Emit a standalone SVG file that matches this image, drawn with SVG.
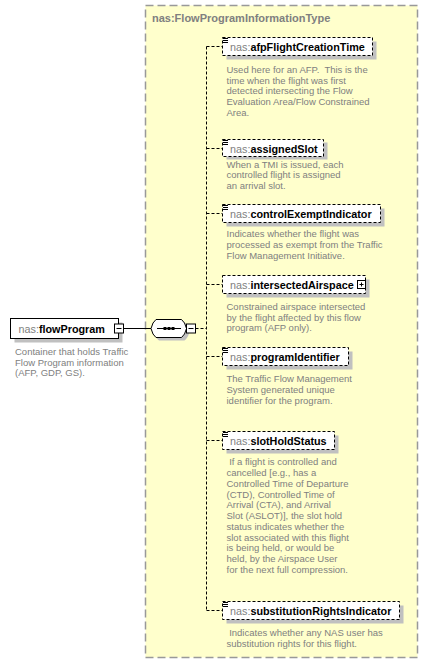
<svg xmlns="http://www.w3.org/2000/svg" width="428" height="666" viewBox="0 0 428 666">
<defs>
<style>
.typebox{fill:#FFFFCC;stroke:#999999;stroke-width:1.5;stroke-dasharray:8,4}
.title{font-family:"Liberation Sans",Arial,sans-serif;font-size:11px;font-weight:bold;fill:#808080}
.shadow{fill:#C0C0C0;stroke:none}
.elem{fill:#FFFFFF;stroke:#000000;stroke-width:1}
.opt{stroke-dasharray:3,2}
.lbl{font-family:"Liberation Sans",Arial,sans-serif;font-size:10.8px}
.ns{fill:#808080}
.nm{font-weight:bold;fill:#000000}
.desc{font-family:"Liberation Sans",Arial,sans-serif;font-size:9.5px;fill:#808080}
.conn{fill:none;stroke:#000000;stroke-width:1}
.dash{stroke-dasharray:3,2}
.btn{fill:#FFFFFF;stroke:#000000;stroke-width:1}
.icon{stroke:#000000;stroke-width:1}
</style>
</defs>

<rect class="typebox" x="145.5" y="5.5" width="272" height="652"/>
<text class="title" x="152" y="22">nas:FlowProgramInformationType</text>

<g id="connectors">
<line class="conn" x1="123.5" y1="328.5" x2="151" y2="328.5"/>
<line class="conn dash" x1="195.5" y1="328.5" x2="206.5" y2="328.5"/>
<line class="conn dash" x1="206.5" y1="46.5" x2="206.5" y2="610.5"/>
<line class="conn dash" x1="206.5" y1="46.5" x2="222.5" y2="46.5"/>
<line class="conn dash" x1="206.5" y1="148.5" x2="222.5" y2="148.5"/>
<line class="conn dash" x1="206.5" y1="213.5" x2="222.5" y2="213.5"/>
<line class="conn dash" x1="206.5" y1="284.5" x2="222.5" y2="284.5"/>
<line class="conn dash" x1="206.5" y1="356.5" x2="222.5" y2="356.5"/>
<line class="conn dash" x1="206.5" y1="440.5" x2="222.5" y2="440.5"/>
<line class="conn dash" x1="206.5" y1="610.5" x2="222.5" y2="610.5"/>
</g>

<g id="flowProgram">
<rect class="shadow" x="14.5" y="322.5" width="108" height="20"/>
<rect class="elem" x="10.5" y="318.5" width="108" height="20"/>
<text class="lbl" x="18.5" y="333"><tspan class="ns">nas:</tspan><tspan class="nm">flowProgram</tspan></text>
<rect class="btn" x="114.5" y="324" width="9" height="9"/>
<line class="icon" x1="116.5" y1="328.5" x2="121.5" y2="328.5"/>
<text class="desc" x="15" y="355">
<tspan x="15">Container that holds Traffic</tspan>
<tspan x="15" dy="10.7">Flow Program information</tspan>
<tspan x="15" dy="10.7">(AFP, GDP, GS).</tspan>
</text>
</g>

<g id="sequence">
<path class="shadow" d="M159,322.5 H184.5 Q188,325 189.5,331.5 Q188,338 184.5,340.5 H159 Q155.5,338 154,331.5 Q155.5,325 159,322.5 Z"/>
<path class="elem" d="M156,319.5 H181.5 Q185,322 186.5,328.5 Q185,335 181.5,337.5 H156 Q152.5,335 151,328.5 Q152.5,322 156,319.5 Z"/>
<line class="icon" x1="157" y1="328.5" x2="181" y2="328.5"/>
<rect x="163.5" y="327" width="3" height="3" fill="#000"/>
<rect x="167.5" y="327" width="3" height="3" fill="#000"/>
<rect x="171.5" y="327" width="3" height="3" fill="#000"/>
<rect class="btn" x="186.5" y="324" width="9" height="9"/>
<line class="icon" x1="188.5" y1="328.5" x2="193.5" y2="328.5"/>
</g>

<g id="afpFlightCreationTime">
<rect class="shadow" x="226.5" y="41.5" width="150" height="18"/>
<rect class="elem opt" x="222.5" y="37.5" width="150" height="18"/>
<line class="icon" x1="223" y1="38.5" x2="228" y2="38.5"/>
<line class="icon" x1="223" y1="40.5" x2="228" y2="40.5"/>
<line class="icon" x1="223" y1="42.5" x2="228" y2="42.5"/>
<text class="lbl" x="230" y="51"><tspan class="ns">nas:</tspan><tspan class="nm">afpFlightCreationTime</tspan></text>
<text class="desc" x="226.5" y="73" xml:space="preserve"><tspan x="226.5">Used here for an AFP.  This is the</tspan><tspan x="226.5" dy="10.7">time when the flight was first</tspan><tspan x="226.5" dy="10.7">detected intersecting the Flow</tspan><tspan x="226.5" dy="10.7">Evaluation Area/Flow Constrained</tspan><tspan x="226.5" dy="10.7">Area.</tspan></text>
</g>

<g id="assignedSlot">
<rect class="shadow" x="226.5" y="142.5" width="101" height="17"/>
<rect class="elem opt" x="222.5" y="139.5" width="101" height="17"/>
<line class="icon" x1="223" y1="140.5" x2="228" y2="140.5"/>
<line class="icon" x1="223" y1="142.5" x2="228" y2="142.5"/>
<line class="icon" x1="223" y1="144.5" x2="228" y2="144.5"/>
<text class="lbl" x="230" y="152.5"><tspan class="ns">nas:</tspan><tspan class="nm">assignedSlot</tspan></text>
<text class="desc" x="226.5" y="167.5">
<tspan x="226.5">When a TMI is issued, each</tspan>
<tspan x="226.5" dy="10.5">controlled flight is assigned</tspan>
<tspan x="226.5" dy="10.5">an arrival slot.</tspan>
</text>
</g>

<g id="controlExemptIndicator">
<rect class="shadow" x="226.5" y="208.5" width="158" height="18"/>
<rect class="elem opt" x="222.5" y="204.5" width="158" height="18"/>
<line class="icon" x1="223" y1="205.5" x2="228" y2="205.5"/>
<line class="icon" x1="223" y1="207.5" x2="228" y2="207.5"/>
<line class="icon" x1="223" y1="209.5" x2="228" y2="209.5"/>
<text class="lbl" x="230" y="218"><tspan class="ns">nas:</tspan><tspan class="nm">controlExemptIndicator</tspan></text>
<text class="desc" x="226.5" y="237.4">
<tspan x="226.5">Indicates whether the flight was</tspan>
<tspan x="226.5" dy="10.7">processed as exempt from the Traffic</tspan>
<tspan x="226.5" dy="10.7">Flow Management Initiative.</tspan>
</text>
</g>

<g id="intersectedAirspace">
<rect class="shadow" x="226.5" y="279.5" width="143" height="18"/>
<rect class="elem opt" x="222.5" y="275.5" width="143" height="18"/>
<text class="lbl" x="230" y="289"><tspan class="ns">nas:</tspan><tspan class="nm">intersectedAirspace</tspan></text>
<rect class="btn" x="357.5" y="280.5" width="8" height="8"/>
<line class="icon" x1="359.5" y1="284.5" x2="363.5" y2="284.5"/>
<line class="icon" x1="361.5" y1="282.5" x2="361.5" y2="286.5"/>
<text class="desc" x="226.5" y="310">
<tspan x="226.5">Constrained airspace intersected</tspan>
<tspan x="226.5" dy="10.7">by the flight affected by this flow</tspan>
<tspan x="226.5" dy="10.7">program (AFP only).</tspan>
</text>
</g>

<g id="programIdentifier">
<rect class="shadow" x="226.5" y="351.5" width="126" height="18"/>
<rect class="elem opt" x="222.5" y="347.5" width="126" height="18"/>
<line class="icon" x1="223" y1="348.5" x2="228" y2="348.5"/>
<line class="icon" x1="223" y1="350.5" x2="228" y2="350.5"/>
<line class="icon" x1="223" y1="352.5" x2="228" y2="352.5"/>
<text class="lbl" x="230" y="361"><tspan class="ns">nas:</tspan><tspan class="nm">programIdentifier</tspan></text>
<text class="desc" x="226.5" y="382.4">
<tspan x="226.5">The Traffic Flow Management</tspan>
<tspan x="226.5" dy="10.7">System generated unique</tspan>
<tspan x="226.5" dy="10.7">identifier for the program.</tspan>
</text>
</g>

<g id="slotHoldStatus">
<rect class="shadow" x="226.5" y="435.5" width="112" height="18"/>
<rect class="elem opt" x="222.5" y="431.5" width="112" height="18"/>
<line class="icon" x1="223" y1="432.5" x2="228" y2="432.5"/>
<line class="icon" x1="223" y1="434.5" x2="228" y2="434.5"/>
<line class="icon" x1="223" y1="436.5" x2="228" y2="436.5"/>
<text class="lbl" x="230" y="445"><tspan class="ns">nas:</tspan><tspan class="nm">slotHoldStatus</tspan></text>
<text class="desc" x="226.5" y="465.4" xml:space="preserve"><tspan x="226.5"> If a flight is controlled and</tspan><tspan x="226.5" dy="10.75">cancelled [e.g., has a</tspan><tspan x="226.5" dy="10.75">Controlled Time of Departure</tspan><tspan x="226.5" dy="10.75">(CTD), Controlled Time of</tspan><tspan x="226.5" dy="10.75">Arrival (CTA), and Arrival</tspan><tspan x="226.5" dy="10.75">Slot (ASLOT)], the slot hold</tspan><tspan x="226.5" dy="10.75">status indicates whether the</tspan><tspan x="226.5" dy="10.75">slot associated with this flight</tspan><tspan x="226.5" dy="10.75">is being held, or would be</tspan><tspan x="226.5" dy="10.75">held, by the Airspace User</tspan><tspan x="226.5" dy="10.75">for the next full compression.</tspan></text>
</g>

<g id="substitutionRightsIndicator">
<rect class="shadow" x="226.5" y="605.5" width="177" height="18"/>
<rect class="elem opt" x="222.5" y="601.5" width="177" height="18"/>
<line class="icon" x1="223" y1="602.5" x2="228" y2="602.5"/>
<line class="icon" x1="223" y1="604.5" x2="228" y2="604.5"/>
<line class="icon" x1="223" y1="606.5" x2="228" y2="606.5"/>
<text class="lbl" x="230" y="615"><tspan class="ns">nas:</tspan><tspan class="nm">substitutionRightsIndicator</tspan></text>
<text class="desc" x="226.5" y="636" xml:space="preserve"><tspan x="226.5"> Indicates whether any NAS user has</tspan><tspan x="226.5" dy="10.7">substitution rights for this flight.</tspan></text>
</g>
</svg>
